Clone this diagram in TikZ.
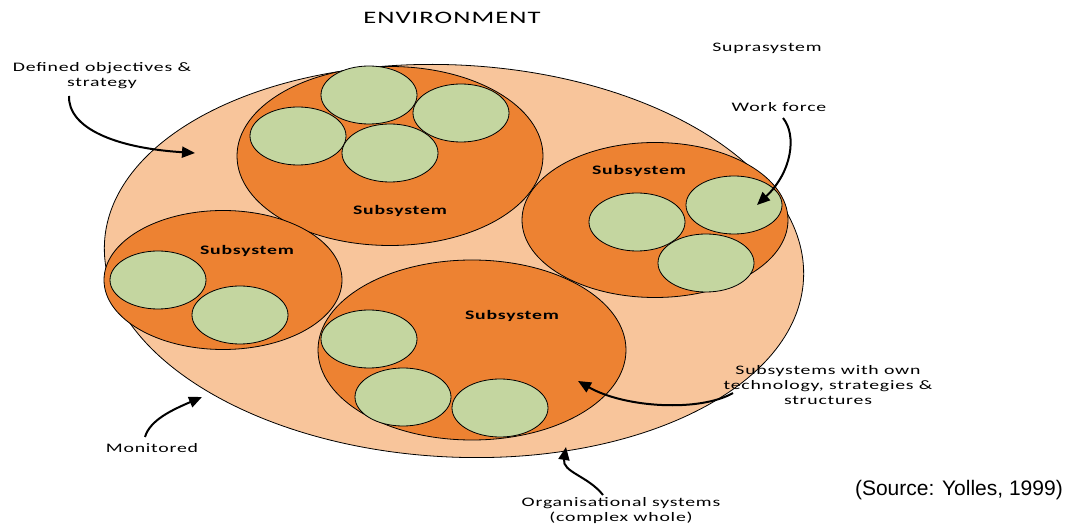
\documentclass[tikz,border=0pt]{standalone}
\usepackage{fontspec}
\usetikzlibrary{shapes.geometric,arrows.meta}
\newfontfamily\lblfont[FakeStretch=1.52,LetterSpace=6]{Carlito}
\newfontfamily\srcfont{Liberation Sans}
\definecolor{supra}{RGB}{248,197,155}
\definecolor{subsys}{RGB}{237,130,50}
\definecolor{unit}{RGB}{196,214,160}
\tikzset{
  blob/.style={ellipse, draw=black, line width=0.8pt, inner sep=0pt},
  outerblob/.style={blob, fill=supra, minimum width=700pt, minimum height=392pt},
  subblob/.style={blob, fill=subsys},
  unitblob/.style={blob, fill=unit, minimum width=96pt, minimum height=58pt},
  lbl/.style={font=\lblfont\fontsize{13}{15}\selectfont, align=center, inner sep=0pt},
  sublbl/.style={font=\lblfont\bfseries\fontsize{13}{14}\selectfont, inner sep=0pt},
  pointer/.style={line width=2pt, -{Triangle[length=13pt,width=11pt]}},
}
\begin{document}
\begin{tikzpicture}[x=1pt,y=-1pt]
\useasboundingbox (0,0) rectangle (1080,529);

% the whole organisation inside its suprasystem
\node[outerblob, rotate=-3] (org) at (454,261) {};

% subsystems
\node[subblob, minimum width=306pt, minimum height=179pt] (subT) at (390,156) {};
\node[subblob, minimum width=266pt, minimum height=155pt] (subR) at (655,220) {};
\node[subblob, minimum width=238pt, minimum height=139pt] (subL) at (223,280) {};
\node[subblob, minimum width=308pt, minimum height=180pt] (subB) at (472,350) {};

% work-force units
\node[unitblob] (uT1) at (369,95) {};
\node[unitblob] (uT2) at (461,113) {};
\node[unitblob] (uT3) at (298,136) {};
\node[unitblob] (uT4) at (390,153) {};
\node[unitblob] (uR1) at (734,205) {};
\node[unitblob] (uR2) at (637,222) {};
\node[unitblob] (uR3) at (706,263) {};
\node[unitblob] (uL1) at (158,280) {};
\node[unitblob] (uL2) at (240,315) {};
\node[unitblob] (uB1) at (369,339) {};
\node[unitblob] (uB2) at (403,397) {};
\node[unitblob] (uB3) at (500,408) {};

% subsystem captions
\node[sublbl] (capT) at (400,211) {Subsystem};
\node[sublbl] (capR) at (639,171) {Subsystem};
\node[sublbl] (capL) at (247,251) {Subsystem};
\node[sublbl] (capB) at (512,316) {Subsystem};

% labels
\node[lbl, font=\lblfont\fontsize{17.5}{19}\selectfont] (env) at (452,18) {ENVIRONMENT};
\node[lbl] (supra) at (767,48) {Suprasystem};
\node[lbl] (defd) at (102,76) {Defined objectives \&\\strategy};
\node[lbl] (work) at (779,107) {Work force};
\node[lbl] (own) at (828,385) {Subsystems with own\\technology, strategies \&\\structures};
\node[lbl] (mon) at (152,448) {Monitored};
\node[lbl] (cplx) at (621,511) {Organisational systems\\(complex whole)};
\node[font=\srcfont\fontsize{21}{24}\selectfont, inner sep=0pt, anchor=east] (src) at (1063,490) {(Source: Yolles, 1999)};

% pointer ends
\coordinate (defdTail) at (69,96);
\coordinate (defdTip) at (195,153);
\coordinate (workTail) at (783,118);
\coordinate (workTip) at (757,205);
\coordinate (ownTail) at (733,393);
\coordinate (ownTip) at (578,381);
\coordinate (monTail) at (145,437);
\coordinate (monTip) at (202,397);
\coordinate (cplxTail) at (603,495);
\coordinate (cplxTip) at (566,447);

% pointers
\draw[pointer] (defdTail) .. controls (68,128) and (115,148) .. (defdTip);
\draw[pointer] (workTail) .. controls (797,135) and (792,172) .. (workTip);
\draw[pointer] (ownTail) .. controls (700,412) and (625,408) .. (ownTip);
\draw[pointer] (monTail) .. controls (150,420) and (172,410) .. (monTip);
\draw[pointer] (cplxTail) .. controls (588,476) and (562,472) .. (cplxTip);
\end{tikzpicture}
\end{document}
